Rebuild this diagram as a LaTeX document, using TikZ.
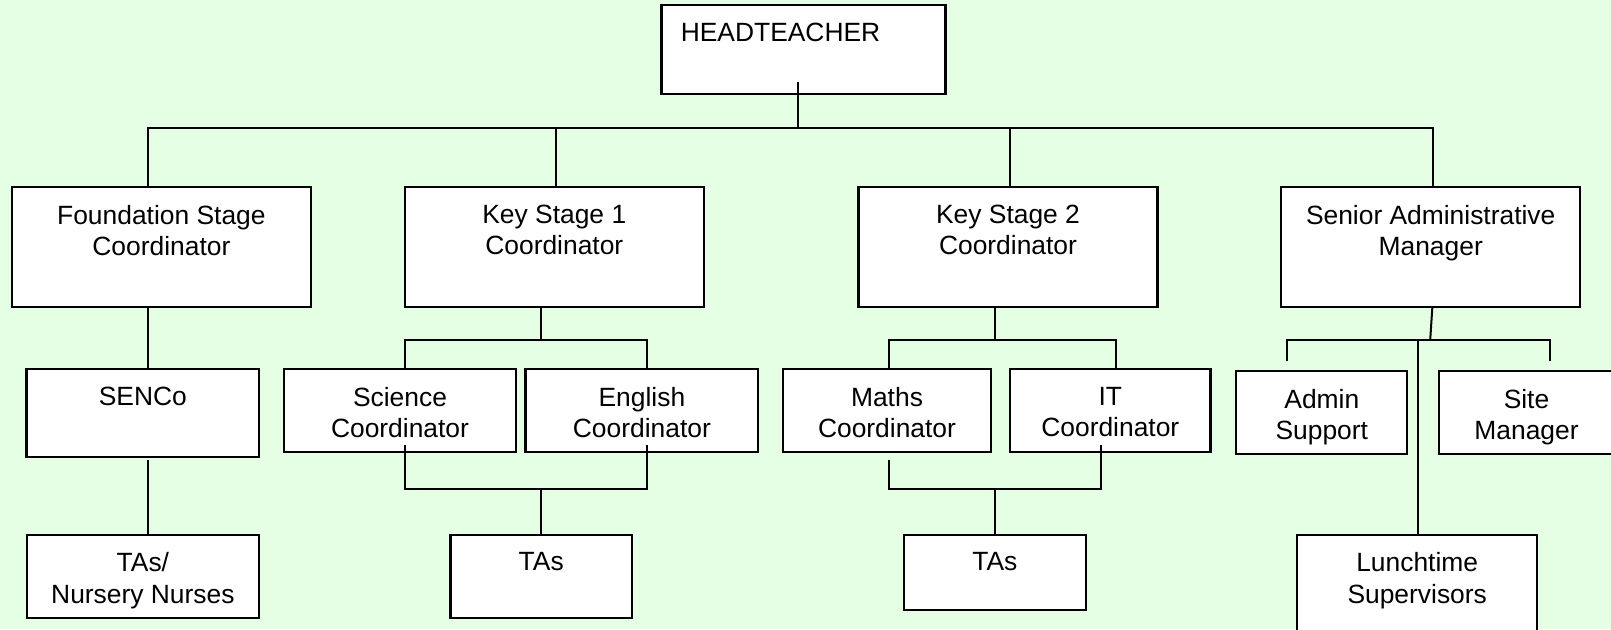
\documentclass[tikz,border=0pt]{standalone}
\usepackage{fontspec}
\setmainfont{Liberation Sans}
\usetikzlibrary{positioning, calc}
\definecolor{paleg}{RGB}{229,255,229}

\begin{document}
\begin{tikzpicture}[
  x=0.5pt, y=-0.5pt,
  box/.style 2 args = {draw, line width=1.1pt, fill=white, inner sep=0pt,
    minimum width=#1*0.5pt, minimum height=#2*0.5pt},
  txt/.style = {anchor=north, yshift=-9.3pt, align=center, inner sep=0pt,
    font=\fontsize{13.2pt}{15.75pt}\selectfont},
  link/.style = {line width=1pt}
]

  % page and background
  \useasboundingbox (0,0) rectangle (1611,629);
  \clip (0,0) rectangle (1611,629);
  \fill[paleg] (0,0) rectangle (1611,629);

  % Headteacher
  \node[box={284}{88.4}, label={[txt, anchor=north west, xshift=10pt]north west:HEADTEACHER}] (ht) at (803.5,49.5) {};

  % Coordinators
  \node[box={299}{119.7}, label={[txt]north:{Foundation Stage\\Coordinator}}] (fsc) at (161.4,246.85) {};
  \node[box={299}{119.7}, label={[txt]north:{Key Stage 1\\Coordinator}}] (ks1) at (554.3,246.85) {};
  \node[box={299}{119.7}, label={[txt]north:{Key Stage 2\\Coordinator}}] (ks2) at (1008,246.85) {};
  \node[box={299}{119.7}, label={[txt]north:{Senior Administrative\\Manager}}] (sam) at (1430.7,246.85) {};

  % second row
  \node[box={232.8}{88.3}, label={[txt]north:SENCo}] (senco) at (142.9,412.85) {};
  \node[box={232.5}{82.7}, label={[txt]north:{Science\\Coordinator}}] (sci) at (400,410.35) {};
  \node[box={232.8}{82.7}, label={[txt]north:{English\\Coordinator}}] (eng) at (641.9,410.35) {};
  \node[box={207.7}{82.7}, label={[txt]north:{Maths\\Coordinator}}] (math) at (887,410.35) {};
  \node[box={200.5}{82.7}, label={[txt]north:{IT\\Coordinator}}] (it) at (1110.3,410.35) {};
  \node[box={171}{83}, label={[txt]north:{Admin\\Support}}] (adm) at (1321.8,412.5) {};
  \node[box={175}{82.7}, label={[txt]north:{Site\\Manager}}] (site) at (1526.5,412.35) {};

  % bottom row
  \node[box={232.3}{83}, label={[txt]north:{TAs/\\Nursery Nurses}}] (tas1) at (142.9,576.2) {};
  \node[box={181.5}{83}, label={[txt]north:TAs}] (tas2) at (541.2,576.2) {};
  \node[box={181.7}{75.6}, label={[txt]north:TAs}] (tas3) at (994.9,572.5) {};
  \node[box={240.3}{100}, label={[txt]north:{Lunchtime\\Supervisors}}] (lunch) at (1417.2,584.7) {};

  % top bus
  \draw[link] ([xshift=-2.6pt,yshift=6.35pt]ht.south) -- ++(0,45.7) coordinate (bus0);
  \foreach \n/\dx in {fsc/-6.7pt, ks1/1pt, ks2/1pt, sam/1pt}
    \draw[link] ([xshift=\dx]\n.north) |- (bus0);

  % foundation stage
  \draw[link] ([xshift=-6.7pt]fsc.south) -- ([xshift=-6.7pt]fsc.south |- senco.north);
  \draw[link] ([xshift=2.55pt,yshift=-1.15pt]senco.south) -- ([xshift=2.55pt]tas1.north);

  % key stage 1
  \draw[link] ([xshift=-6.65pt]ks1.south) -- ++(0,32) coordinate (bus1);
  \draw[link] ([xshift=2.3pt]sci.north) |- (bus1) -| ([xshift=2.75pt]eng.north);
  \draw[link] (tas2.north) -- ++(0,-45) coordinate (bus2);
  \draw[link] ([xshift=2.3pt,yshift=3.85pt]sci.south) |- (bus2) -| ([xshift=2.75pt,yshift=3.85pt]eng.south);

  % key stage 2
  \draw[link] ([xshift=-6.75pt]ks2.south) -- ++(0,32) coordinate (bus3);
  \draw[link] ([xshift=0.9pt]math.north) |- (bus3) -| ([xshift=2.6pt]it.north);
  \draw[link] (tas3.north) -- ++(0,-45) coordinate (bus4);
  \draw[link] ([xshift=0.9pt,yshift=-3.8pt]math.south) |- (bus4) -| ([xshift=-4.65pt,yshift=3.85pt]it.south);

  % administration
  \coordinate (bus5) at ([xshift=-0.25pt,yshift=-16pt]sam.south);
  \draw[link] ([xshift=0.8pt]sam.south) -- (bus5);
  \draw[link] ([xshift=-17.6pt,yshift=4.25pt]adm.north) |- (bus5) -| ([xshift=11.95pt,yshift=4.25pt]site.north);
  \draw[link] ([xshift=0.3pt]lunch.north) -- ([xshift=0.3pt]lunch.north |- bus5);

\end{tikzpicture}
\end{document}
